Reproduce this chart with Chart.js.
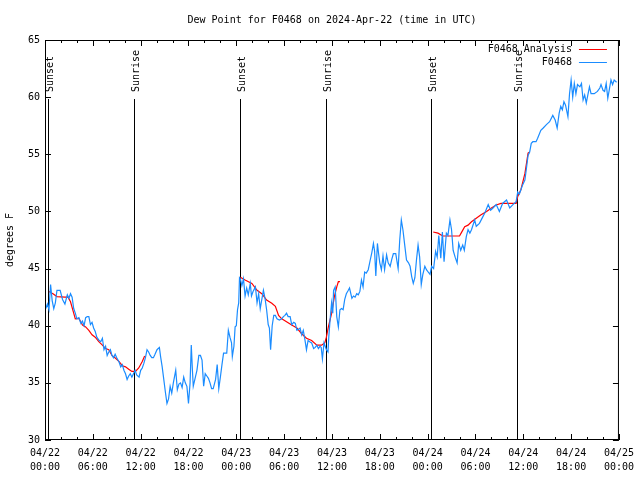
<!DOCTYPE html>
<html>
<head>
<meta charset="utf-8">
<title>Dew Point for F0468</title>
<script src="https://cdn.jsdelivr.net/npm/chart.js@4.4.1/dist/chart.umd.min.js"></script>
<style>
  html, body { margin: 0; padding: 0; background: #fff; }
  #wrap { width: 640px; height: 480px; }
</style>
</head>
<body>
<div id="wrap"><canvas id="dewChart" width="640" height="480"></canvas></div>
<script>
// hours since 2024-04-22 00:00 UTC
var obsHours = [
  0.1,0.3,0.5,0.7,0.9,1.1,1.3,1.5,1.9,2.2,2.5,2.8,3.0,3.2,3.4,3.6,3.8,4.0,4.25,4.5,4.7,4.9,5.1,5.3,5.5,5.7,5.9,
  6.1,6.3,6.5,6.8,7.0,7.2,7.4,7.6,7.8,8.0,8.2,8.4,8.6,8.8,9.0,9.3,9.5,9.7,9.9,10.1,10.3,10.5,10.7,10.9,11.1,11.3,11.5,11.8,
  12.0,12.2,12.4,12.6,12.8,13.0,13.2,13.4,13.6,13.8,14.05,14.35,14.5,14.7,14.9,15.1,15.3,15.5,15.7,15.9,16.1,16.4,16.6,16.8,17.0,17.2,17.4,17.6,17.8,
  18.0,18.2,18.35,18.5,18.6,18.8,19.06,19.3,19.5,19.7,19.9,20.1,20.3,20.5,20.7,20.9,21.1,21.4,21.6,21.8,22.0,22.2,22.4,22.6,22.8,23.0,23.2,23.4,23.5,23.7,23.85,
  24.0,24.15,24.3,24.4,24.5,24.7,24.9,25.1,25.3,25.5,25.75,25.9,26.1,26.4,26.6,26.8,27.0,27.2,27.4,27.6,27.8,28.0,28.15,28.3,28.5,28.7,28.9,29.1,29.4,29.7,29.9,
  30.1,30.3,30.5,30.75,30.95,31.2,31.4,31.6,31.8,32.0,32.2,32.4,32.6,32.8,33.0,33.2,33.45,33.7,33.9,34.1,34.3,34.5,34.65,34.8,35.0,35.15,35.3,35.5,35.6,35.75,35.95,
  36.1,36.2,36.4,36.6,36.8,37.0,37.2,37.4,37.6,37.8,38.05,38.2,38.5,38.7,38.9,39.1,39.3,39.5,39.7,39.9,40.1,40.3,40.55,40.8,41.0,41.2,41.35,41.5,41.7,41.85,
  42.0,42.2,42.4,42.6,42.85,43.05,43.3,43.5,43.7,44.0,44.3,44.5,44.7,44.9,45.1,45.35,45.6,45.8,46.0,46.2,46.4,46.6,46.8,47.0,47.2,47.4,47.65,47.85,
  48.06,48.3,48.5,48.75,49.0,49.2,49.4,49.65,49.85,50.06,50.35,50.55,50.8,51.0,51.2,51.45,51.7,51.9,52.15,52.4,52.6,52.85,53.07,53.3,53.5,53.9,
  54.1,54.5,54.9,55.2,55.6,55.9,56.2,56.6,57.0,57.4,57.9,58.3,58.7,59.1,59.3,59.5,59.7,59.9,
  60.2,60.4,60.6,60.8,61.0,61.2,61.6,61.8,62.2,62.5,62.9,63.3,63.7,64.0,64.25,64.5,64.7,64.9,65.1,65.3,65.6,65.8,66.0,66.2,66.4,66.6,66.8,
  67.1,67.3,67.5,67.7,67.9,68.1,68.3,68.5,68.9,69.3,69.6,69.75,70.0,70.2,70.4,70.6,70.8,71.0,71.2,71.4,71.7
];
var obsValues = [
  41.5,41.9,41.4,43.6,42.2,41.5,42.0,43.1,43.1,42.3,41.9,42.7,42.4,42.8,42.5,41.5,41.1,40.6,40.7,40.2,40.4,40.0,40.7,40.8,40.8,40.1,40.3,
  39.8,39.5,39.0,38.7,38.6,38.9,37.9,38.2,37.4,37.7,37.9,37.4,37.2,37.5,37.2,36.8,36.4,36.6,36.1,35.8,35.3,35.6,35.8,35.5,35.8,36.1,35.7,35.5,
  36.1,36.3,36.7,37.2,37.9,37.7,37.4,37.2,37.2,37.5,37.9,38.1,37.3,36.4,35.3,34.2,33.2,33.6,34.7,34.1,35.0,36.1,34.4,34.9,35.0,34.6,35.5,35.0,34.7,
  33.2,35.0,38.3,36.0,34.7,35.3,36.1,37.4,37.4,37.0,34.7,35.8,35.6,35.4,35.0,34.5,34.5,35.3,36.6,34.5,35.5,36.6,37.6,37.6,37.6,39.6,39.0,38.5,37.3,38.2,39.9,
  40.0,41.4,42.0,44.2,44.1,43.5,44.1,42.6,43.3,42.7,43.7,42.6,43.0,43.4,42.0,42.8,41.5,42.3,43.1,42.4,41.4,40.1,39.8,37.9,40.0,40.9,40.9,40.6,40.5,40.6,40.8,
  40.9,41.1,40.8,40.8,40.1,40.3,40.2,39.6,39.7,39.8,39.2,39.6,38.8,37.9,38.7,38.6,38.5,38.0,38.1,38.3,38.0,38.2,38.1,37.1,38.5,38.2,37.9,37.7,39.0,40.4,42.0,
  41.1,43.1,43.4,40.8,39.9,41.4,41.5,41.4,42.3,42.8,43.1,43.3,42.4,42.6,42.5,42.8,42.7,43.0,44.0,43.4,44.7,44.6,44.9,45.75,46.4,47.2,46.5,44.35,47.2,46.3,
  45.5,44.9,46.1,44.9,46.2,45.5,45.2,45.8,46.3,46.3,45.0,47.5,49.25,48.4,47.2,45.75,45.5,45.2,44.3,43.7,44.2,45.75,47.05,46.0,43.6,44.5,45.2,44.9,
  44.7,44.5,45.2,45.0,46.5,46.0,47.9,45.9,48.2,45.6,48.1,47.9,49.25,48.4,46.6,46.0,45.5,47.2,46.6,47.05,46.6,47.8,48.4,48.1,48.4,49.25,
  48.7,48.96,49.5,49.9,50.6,50.1,50.3,50.6,50.0,50.7,51.0,50.3,50.6,50.85,51.7,51.5,51.9,52.3,
  52.75,53.8,54.9,55.2,55.96,56.1,56.1,56.4,57.1,57.3,57.6,57.85,58.4,58.0,57.3,58.6,59.2,58.9,59.6,59.3,58.3,60.3,61.5,60.0,61.2,60.3,61.1,
  60.9,61.2,59.75,60.2,59.5,60.2,60.9,60.3,60.3,60.5,60.8,61.1,60.6,60.5,61.2,59.9,60.7,61.5,61.1,61.5,61.3
];

// analysis, null = gap between runs
var anaHours = [
  0.5,1.0,1.5,2.5,2.9,3.2,3.6,3.8,4.25,4.7,5.1,5.5,5.9,6.3,6.75,7.2,7.6,8.0,8.4,8.85,9.3,9.7,10.1,10.5,10.9,11.35,11.76,12.2,12.5,
  18.0,
  24.5,25.1,25.95,26.6,27.2,27.8,28.45,28.9,29.3,29.7,30.3,30.95,31.6,32.2,32.8,33.45,34.1,34.7,35.1,35.3,35.55,35.96,36.3,36.6,36.8,37.0,
  42.0,
  48.7,49.3,49.9,52.0,52.2,52.65,53.07,53.5,54.1,54.7,55.4,56.0,56.6,57.2,57.9,59.1,59.3,59.7,60.2,60.4,60.6,60.8
];
var anaValues = [
  43.0,42.8,42.55,42.5,42.5,42.1,41.1,40.6,40.65,40.06,39.9,39.6,39.2,39.0,38.6,38.3,38.0,37.9,37.4,37.15,36.86,36.5,36.4,36.2,36.0,36.0,36.3,36.86,37.35,
  null,
  44.24,44.0,43.7,43.1,42.8,42.25,41.96,41.7,40.9,40.6,40.35,40.06,39.8,39.3,38.9,38.7,38.3,38.3,38.5,39.0,39.9,41.1,42.55,43.4,43.85,43.85,
  null,
  48.2,48.1,47.85,47.85,48.1,48.67,48.8,49.1,49.4,49.7,50.0,50.3,50.56,50.7,50.7,50.7,51.3,51.9,53.3,54.2,55.1,55.2
];

var sunHours = [0.38, 11.22, 24.42, 35.3, 48.47, 59.26];
var sunLabels = ['Sunset', 'Sunrise', 'Sunset', 'Sunrise', 'Sunset', 'Sunrise'];

var xTickHours = [0, 6, 12, 18, 24, 30, 36, 42, 48, 54, 60, 66, 72];
var xTickLabels = [
  ['04/22', '00:00'], ['04/22', '06:00'], ['04/22', '12:00'], ['04/22', '18:00'],
  ['04/23', '00:00'], ['04/23', '06:00'], ['04/23', '12:00'], ['04/23', '18:00'],
  ['04/24', '00:00'], ['04/24', '06:00'], ['04/24', '12:00'], ['04/24', '18:00'],
  ['04/25', '00:00']
];

var FONT = "'DejaVu Sans Mono', monospace";
var RED = '#ff0000';
var BLUE = '#1a8cff';

function toPoints(hs, vs) {
  var pts = [];
  for (var i = 0; i < hs.length; i++) {
    pts.push({ x: hs[i], y: vs[i] });
  }
  return pts;
}

// frame, inward ticks, sun lines, title and legend the gnuplot way
var gnuplotLook = {
  id: 'gnuplotLook',
  beforeDatasetsDraw: function(chart) {
    var ctx = chart.ctx;
    var area = chart.chartArea;
    var xs = chart.scales.x;
    ctx.save();
    ctx.strokeStyle = '#000';
    ctx.lineWidth = 1;
    ctx.fillStyle = '#000';
    ctx.font = '10px ' + FONT;
    for (var i = 0; i < sunHours.length; i++) {
      var px = Math.round(xs.getPixelForValue(sunHours[i])) + 0.5;
      ctx.beginPath();
      ctx.moveTo(px, area.top + 59);
      ctx.lineTo(px, area.bottom);
      ctx.stroke();
      ctx.save();
      ctx.translate(px + 1.5, area.top + 52);
      ctx.rotate(-Math.PI / 2);
      ctx.textAlign = 'left';
      ctx.textBaseline = 'middle';
      ctx.fillText(sunLabels[i], 0, 0);
      ctx.restore();
    }
    ctx.restore();
  },
  afterDraw: function(chart) {
    var ctx = chart.ctx;
    var a = chart.chartArea;
    var xs = chart.scales.x, ys = chart.scales.y;
    ctx.save();
    ctx.strokeStyle = '#000';
    ctx.lineWidth = 1;

    // ticks
    ctx.beginPath();
    xs.ticks.forEach(function(t) {
      var px = Math.round(xs.getPixelForValue(t.value)) + 0.5;
      var len = (t.value % 6 === 0) ? 6 : 3;
      ctx.moveTo(px, a.bottom); ctx.lineTo(px, a.bottom - len);
      ctx.moveTo(px, a.top); ctx.lineTo(px, a.top + len);
    });
    ys.ticks.forEach(function(t) {
      var py = Math.round(ys.getPixelForValue(t.value)) + 0.5;
      ctx.moveTo(a.left, py); ctx.lineTo(a.left + 6, py);
      ctx.moveTo(a.right, py); ctx.lineTo(a.right - 6, py);
    });
    ctx.stroke();

    // frame
    ctx.strokeRect(a.left + 0.5, a.top + 0.5, a.right - a.left - 1, a.bottom - a.top - 1);

    ctx.fillStyle = '#000';
    ctx.font = '10px ' + FONT;
    ctx.textBaseline = 'middle';

    // title
    ctx.textAlign = 'center';
    ctx.fillText('Dew Point for F0468 on 2024-Apr-22 (time in UTC)', (a.left + a.right) / 2, 20);

    // y axis title
    ctx.save();
    ctx.translate(10, (a.top + a.bottom) / 2);
    ctx.rotate(-Math.PI / 2);
    ctx.textAlign = 'center';
    ctx.fillText('degrees F', 0, 0);
    ctx.restore();

    // legend, top right inside the frame
    var sets = [chart.data.datasets[1], chart.data.datasets[0]];
    for (var i = 0; i < sets.length; i++) {
      var ly = a.top + 9 + i * 13;
      ctx.textAlign = 'right';
      ctx.fillText(sets[i].label, a.right - 47, ly);
      ctx.strokeStyle = sets[i].borderColor;
      ctx.beginPath();
      ctx.moveTo(a.right - 40, ly + 0.5);
      ctx.lineTo(a.right - 12, ly + 0.5);
      ctx.stroke();
    }
    ctx.restore();
  }
};

var ctx = document.getElementById('dewChart');

var chart = new Chart(ctx, {
  type: 'line',
  data: {
    datasets: [
      {
        label: 'F0468',
        data: toPoints(obsHours, obsValues),
        borderColor: BLUE,
        backgroundColor: BLUE,
        borderWidth: 1.2,
        pointRadius: 0,
        tension: 0,
        fill: false,
        order: 0
      },
      {
        label: 'F0468 Analysis',
        data: toPoints(anaHours, anaValues),
        borderColor: RED,
        backgroundColor: RED,
        borderWidth: 1.2,
        pointRadius: 0,
        tension: 0,
        fill: false,
        spanGaps: false,
        order: 1
      }
    ]
  },
  options: {
    responsive: false,
    animation: false,
    events: [],
    layout: { padding: { top: 40, right: 19, left: 0, bottom: 0 } },
    plugins: {
      legend: { display: false },
      title: { display: false },
      tooltip: { enabled: false }
    },
    scales: {
      x: {
        type: 'linear',
        min: 0,
        max: 72,
        grid: { display: false, drawTicks: false },
        border: { display: false },
        afterFit: function(scale) { scale.height = 40; },
        ticks: {
          stepSize: 2,
          autoSkip: false,
          maxRotation: 0,
          padding: 6,
          color: '#000',
          font: { family: FONT, size: 10, lineHeight: 1.4 },
          callback: function(value) {
            var k = xTickHours.indexOf(value);
            return k >= 0 ? xTickLabels[k] : '';
          }
        }
      },
      y: {
        min: 30,
        max: 65,
        grid: { display: false, drawTicks: false },
        border: { display: false },
        afterFit: function(scale) { scale.width = 45; },
        ticks: {
          stepSize: 5,
          padding: 5,
          color: '#000',
          font: { family: FONT, size: 10 }
        }
      }
    }
  },
  plugins: [gnuplotLook]
});
</script>
</body>
</html>
